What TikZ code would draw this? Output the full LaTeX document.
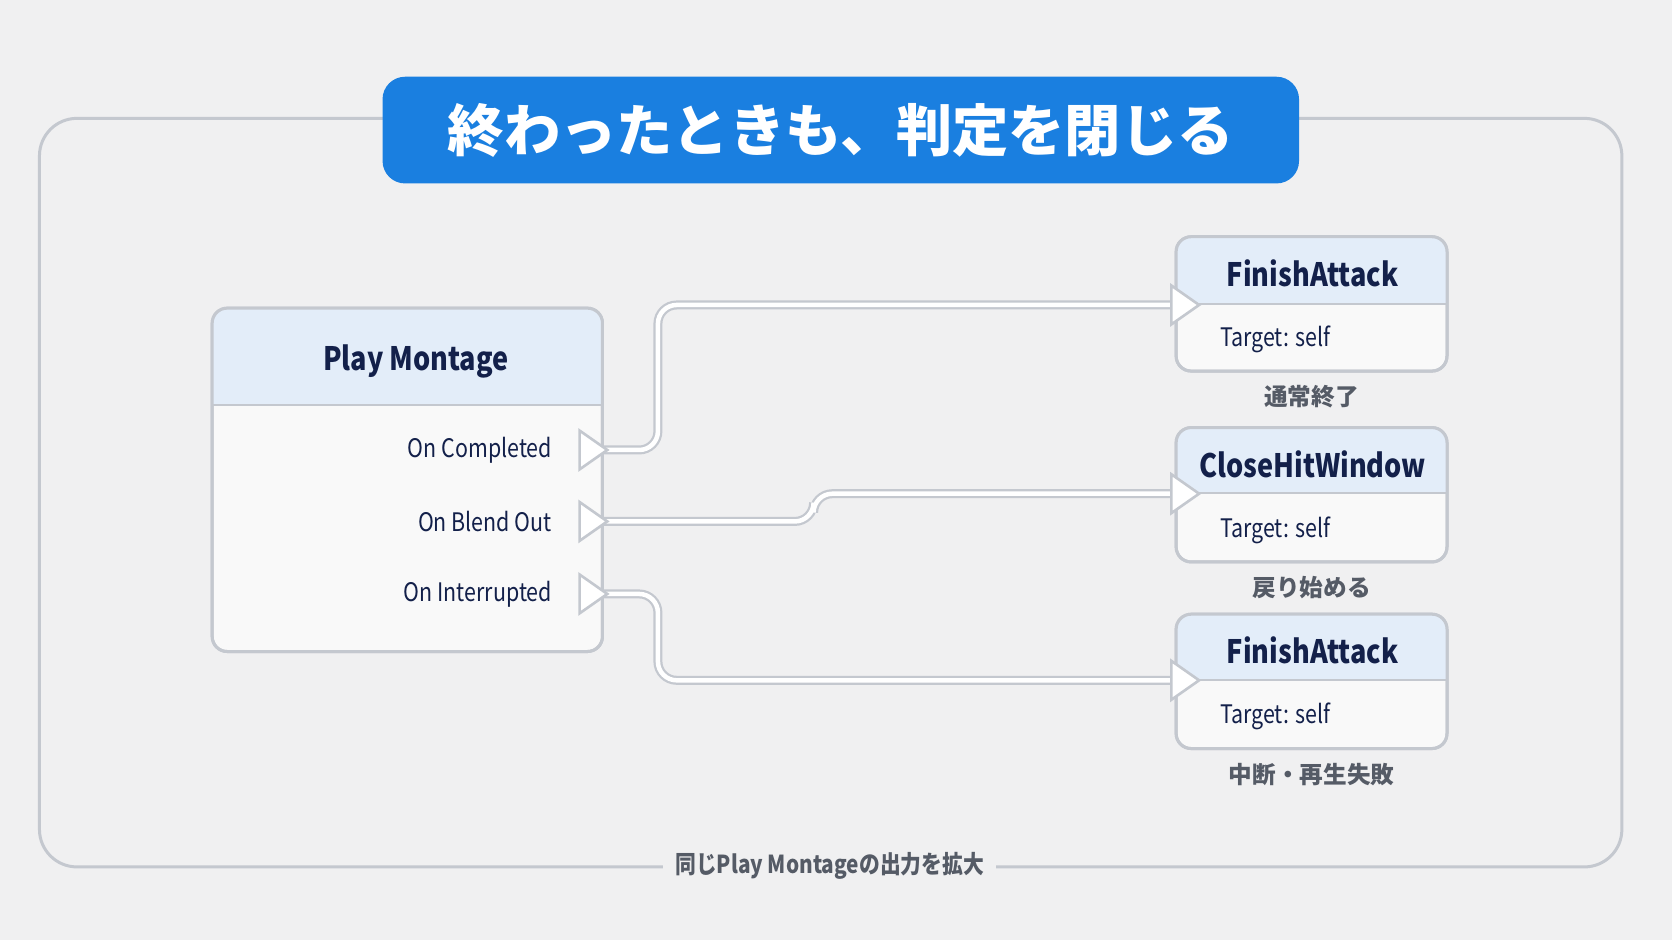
\documentclass[tikz,border=0pt]{standalone}
\usepackage{fontspec}
\setmainfont{Noto Sans CJK JP}
\newfontfamily\cond[FakeStretch=0.84]{Noto Sans CJK JP}
\usetikzlibrary{shapes.geometric}
\definecolor{bgc}{HTML}{F0F0F1}
\definecolor{titleblue}{HTML}{1A7FE0}
\definecolor{headblue}{HTML}{E3EDF9}
\definecolor{navy}{HTML}{13204A}
\definecolor{framegray}{HTML}{C4C8CF}
\definecolor{subgray}{HTML}{555B66}
\tikzset{
  box/.style={draw=framegray, line width=0.8pt, rounded corners=4pt},
  pin tri/.style={isosceles triangle, isosceles triangle apex angle=70, draw=framegray, fill=white, line width=0.7pt, minimum height=0.26cm, inner sep=0pt},
  wire/.style={draw=framegray, line width=2.4pt, rounded corners=5pt},
  wirein/.style={draw=white, line width=1.2pt, rounded corners=5pt},
  ntitle/.style={font=\cond\bfseries\fontsize{8.6}{10}\selectfont, text=navy},
  ntext/.style={font=\cond\fontsize{6.8}{8}\selectfont, text=navy},
  note/.style={font=\bfseries\fontsize{6.3}{8}\selectfont, text=subgray}
}
\begin{document}
\begin{tikzpicture}[x=0.01cm, y=-0.01cm]
  \fill[bgc] (0,0) rectangle (1568,882);
  \useasboundingbox (0,0) rectangle (1568,882);

  % outer frame
  \draw[framegray, line width=0.8pt, rounded corners=10pt] (37,111) rectangle (1521,813);
  \node[fill=bgc, note, font=\cond\bfseries\fontsize{6.6}{8}\selectfont] (cap) at (778,812) {同じPlay Montageの出力を拡大};

  % title
  \node[fill=titleblue, rounded corners=6pt, minimum width=8.59cm, minimum height=1cm,
        text=white, font=\bfseries\fontsize{15}{18}\selectfont] (title) at (788.5,122) {終わったときも、判定を閉じる};

  % play montage
  \draw[box, fill=white!60!bgc] (199,289) rectangle (565,611);
  \fill[headblue, rounded corners=4pt] (199.5,289.5) rectangle (564.5,380);
  \fill[headblue] (199.5,340) rectangle (564.5,380);
  \draw[framegray, line width=0.6pt] (199,380) -- (565,380);
  \draw[box] (199,289) rectangle (565,611);
  \node[ntitle] (pm) at (390,339) {Play Montage};
  \node[ntext, anchor=east] (lc) at (530,422) {On Completed};
  \node[ntext, anchor=east] (lb) at (530,489) {On Blend Out};
  \node[ntext, anchor=east] (li) at (530,557) {On Interrupted};

  % right nodes
  \foreach \n/\t/\y/\h/\l in {fa/FinishAttack/222/285/通常終了, ch/CloseHitWindow/401/462/戻り始める, fb/FinishAttack/576/638/中断・再生失敗}{
    \draw[box, fill=white!60!bgc] (1103,\y) rectangle (1357,\y+126);
    \fill[headblue, rounded corners=4pt] (1103.5,\y+0.5) rectangle (1356.5,\h);
    \fill[headblue] (1103.5,\y+30) rectangle (1356.5,\h);
    \draw[framegray, line width=0.6pt] (1103,\h) -- (1357,\h);
    \draw[box] (1103,\y) rectangle (1357,\y+126);
    \node[ntitle] (\n-t) at (1231,\y+34) {\t};
    \node[ntext, anchor=west] (\n-s) at (1132,\y+96) {Target: self};
    \node[note] (\n-l) at (1230,\y+150) {\l};
  }

  % wires
  \path (553,422) coordinate (pcw) (553,489) coordinate (pbw) (553,557) coordinate (piw);
  \path (1107,286) coordinate (faw) (1107,463) coordinate (chw) (1107,638) coordinate (fbw);
  \foreach \s in {wire, wirein}{
    \draw[\s] (pcw) -- (617,422) |- (faw);
    \draw[\s] (pbw) -- (763,489) |- (chw);
    \draw[\s] (piw) -- (617,557) |- (fbw);
  }

  % pins
  \node[pin tri] (pc) at (553,422) {};
  \node[pin tri] (pb) at (553,489) {};
  \node[pin tri] (pi) at (553,557) {};
  \node[pin tri] (fa) at (1108,286) {};
  \node[pin tri] (ch) at (1108,463) {};
  \node[pin tri] (fb) at (1108,638) {};
\end{tikzpicture}
\end{document}
